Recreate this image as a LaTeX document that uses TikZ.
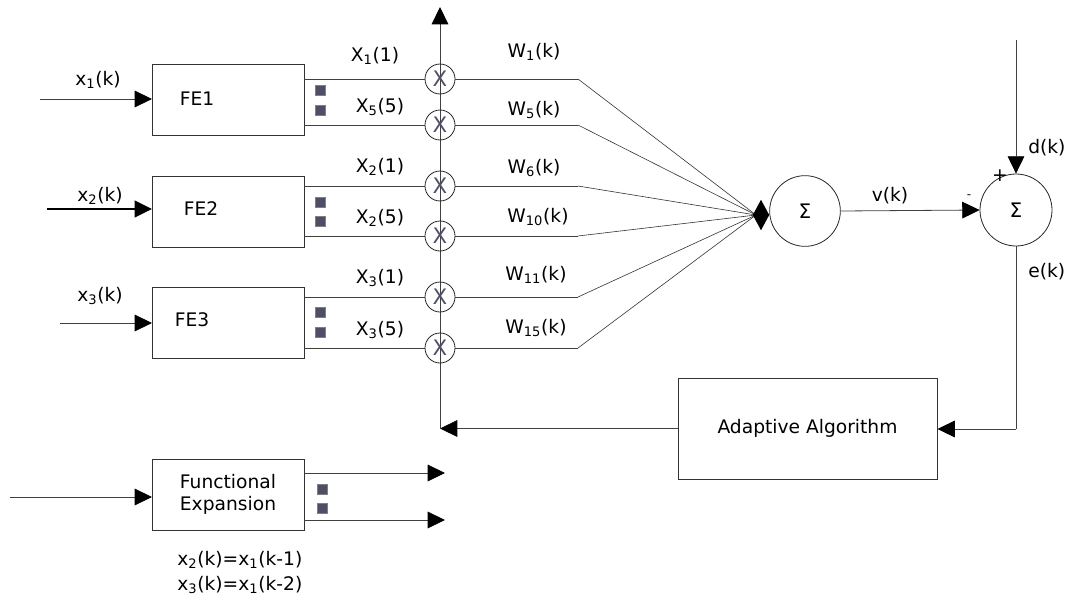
\documentclass[tikz,border=0pt]{standalone}
\usepackage{fontspec}
\setmainfont{DejaVu Sans}
\usetikzlibrary{arrows.meta,positioning,shapes.geometric}
\definecolor{markgray}{HTML}{4E4E66}
\newcommand{\sbs}[1]{\textsubscript{#1}}

\begin{document}
\begin{tikzpicture}[x=0.75pt,y=-0.75pt,
    font=\fontsize{14}{17}\selectfont,
    line/.style={draw=black!75,line width=0.6pt},
    arr/.style={line,-{Triangle[length=13pt,width=12.5pt,color=black]}},
    febox/.style={draw=black!80,line width=0.7pt,minimum width=114pt,minimum height=53.25pt,inner sep=0pt,outer sep=0pt},
    mult/.style={circle,draw=black!85,line width=0.6pt,minimum size=22.5pt,inner sep=0pt,text=markgray,font=\fontsize{16}{18}\selectfont},
    sumnode/.style={circle,draw=black!85,line width=0.6pt,minimum size=53pt,inner sep=0pt,font=\fontsize{15}{18}\selectfont},
    dotbox/.style={fill=markgray,draw=black!50,minimum size=7.5pt,inner sep=0pt},
    lab/.style={inner sep=0pt}]
    \useasboundingbox (0,0) rectangle (1065,607);
    % 扩展模块
    \node[febox] (fe1) at (228,99.5) {};
    \node[febox] (fe2) at (228,211.5) {};
    \node[febox] (fe3) at (228,322.5) {};
    \node[lab] (fe1t) at (197,99) {FE1};
    \node[lab] (fe2t) at (201,209) {FE2};
    \node[lab] (fe3t) at (192,320) {FE3};
    \foreach \n/\ya/\yb in {1/90/110,2/202/221,3/312/332}{
        \node[dotbox] (sq\n a) at (320,\ya) {};
        \node[dotbox] (sq\n b) at (320,\yb) {};
    }
    % 输入
    \coordinate (in1) at (40,99);
    \coordinate (in2) at (47,209);
    \coordinate (in3) at (60,323);
    \draw[arr] (in1) -- (in1 -| fe1.west);
    \draw[arr,line width=1.2pt,draw=black] (in2) -- (in2 -| fe2.west);
    \draw[arr] (in3) -- (in3 -| fe3.west);
    \node[lab] (x1l) at (98,80) {x\sbs{1}(k)};
    \node[lab] (x2l) at (100,196) {x\sbs{2}(k)};
    \node[lab] (x3l) at (100,296) {x\sbs{3}(k)};
    % 纵轴与反馈
    \node[draw=black!80,line width=0.7pt,minimum width=194.25pt,minimum height=75.75pt,inner sep=0pt] (ad) at (807.5,428.5) {Adaptive Algorithm};
    \coordinate (fb) at (440,428.5);
    \coordinate (top) at (440,7);
    \draw[arr] (ad.west) -- (fb);
    \draw[arr] (fb) -- (top);
    % 乘法器
    \coordinate (cv) at (756,215);
    \foreach \n/\y/\f in {1/79/1,2/125/1,3/186/2,4/236/2,5/297/3,6/348/3}{
        \node[mult] (m\n) at (440,\y) {X};
        \coordinate (b\n) at (578,\y);
        \draw[line] (fe\f.east |- m\n) -- (m\n.west);
        \draw[line] (m\n.east) -- (b\n);
        \draw[draw=black!80,line width=0.45pt] (b\n) -- (cv);
    }
    \node[lab] (xl1) at (375,56) {X\sbs{1}(1)};
    \node[lab] (xl2) at (380,107) {X\sbs{5}(5)};
    \node[lab] (xl3) at (380,167) {X\sbs{2}(1)};
    \node[lab] (xl4) at (380,218) {X\sbs{2}(5)};
    \node[lab] (xl5) at (380,278) {X\sbs{3}(1)};
    \node[lab] (xl6) at (380,330) {X\sbs{3}(5)};
    \node[lab] (wl1) at (534,52) {W\sbs{1}(k)};
    \node[lab] (wl2) at (534,110) {W\sbs{5}(k)};
    \node[lab] (wl3) at (534,168) {W\sbs{6}(k)};
    \node[lab] (wl4) at (538,217) {W\sbs{10}(k)};
    \node[lab] (wl5) at (536,275) {W\sbs{11}(k)};
    \node[lab] (wl6) at (536,328) {W\sbs{15}(k)};
    % 求和
    \node[diamond,fill=black,minimum width=12.5pt,minimum height=23pt,inner sep=0pt] (dm) at (761,215) {};
    \node[sumnode] (s1) at (805,211) {Σ};
    \node[sumnode,minimum size=54pt] (s2) at (1016,210) {Σ};
    \draw[arr] (s1.east) -- (s2.west);
    \node[lab] (vl) at (890,196) {v(k)};
    \node[lab,font=\fontsize{9}{10}\selectfont] (minus) at (969,197) {-};
    \node[lab] (plus) at (1000,176) {+};
    \coordinate (dtop) at (1016,40);
    \draw[arr] (dtop) -- (s2.north);
    \node[lab,anchor=west] (dl) at (1028,148) {d(k)};
    \coordinate (ecn) at (1016,429);
    \draw[line] (s2.south) -- (ecn);
    \draw[arr] (ecn) -- (ecn -| ad.east);
    \node[lab,anchor=west] (el) at (1028,272) {e(k)};
    % 说明
    \node[febox,align=center] (fx) at (228,494.5) {Functional\\Expansion};
    \coordinate (fin) at (10,497);
    \draw[arr] (fin) -- (fin -| fx.west);
    \coordinate (fo1) at (445,473);
    \coordinate (fo2) at (445,520);
    \draw[arr] (fo1 -| fx.east) -- (fo1);
    \draw[arr] (fo2 -| fx.east) -- (fo2);
    \node[dotbox] (fsa) at (322,489) {};
    \node[dotbox] (fsb) at (322,508) {};
    \node[lab,anchor=west] (eq1) at (177,560) {x\sbs{2}(k)=x\sbs{1}(k-1)};
    \node[lab,anchor=west] (eq2) at (177,585) {x\sbs{3}(k)=x\sbs{1}(k-2)};
\end{tikzpicture}
\end{document}
